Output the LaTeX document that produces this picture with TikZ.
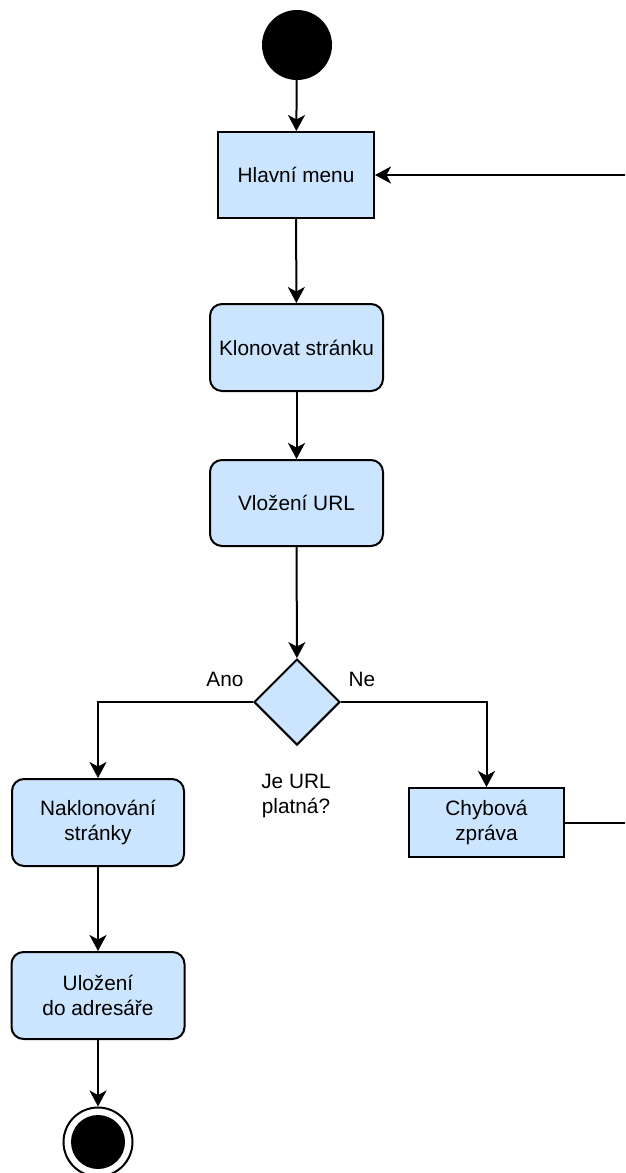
\documentclass[tikz,border=0pt]{standalone}
\usepackage{fontspec}
\setmainfont{Liberation Sans}
\usetikzlibrary{arrows.meta,shapes.geometric}
\definecolor{boxfill}{HTML}{CCE5FF}
\tikzset{
  every node/.style={font=\fontsize{20.8}{25.6}\selectfont},
  actbox/.style={draw=black, line width=2pt, fill=boxfill, rounded corners=12pt, align=center, inner sep=0pt},
  sqbox/.style={draw=black, line width=2pt, fill=boxfill, align=center, inner sep=0pt},
  decbox/.style={draw=black, line width=2pt, fill=boxfill, diamond, minimum width=86pt, minimum height=86pt, inner sep=0pt},
  flow/.style={draw=black, line width=2pt, -{Stealth[length=16pt, width=17pt, inset=4.5pt]}},
}
\begin{document}
\begin{tikzpicture}[x=1pt, y=1pt]
\clip (0,0) rectangle (625,-1173);
\fill[white] (0,0) rectangle (625,-1173);
% start
\node[circle, fill=black, minimum size=70pt, inner sep=0pt] (start) at (297,-45) {};
% nodes
\node[sqbox, minimum width=156pt, minimum height=86pt] (menu) at (296,-175) {Hlavní menu};
\node[actbox, minimum width=173pt, minimum height=87pt] (klon) at (296.5,-347.5) {Klonovat stránku};
\node[actbox, minimum width=173pt, minimum height=86pt] (vloz) at (296.5,-503) {Vložení URL};
\node[decbox] (dec) at (297,-702) {};
\node[actbox, minimum width=172pt, minimum height=87pt] (nakl) at (98,-822.5) {Naklonování\\stránky};
\node[sqbox, minimum width=155pt, minimum height=69pt] (err) at (486.5,-822.5) {Chybová\\zpráva};
\node[actbox, minimum width=173pt, minimum height=87pt] (ulo) at (98,-995.5) {Uložení\\do adresáře};
% end
\node[circle, draw=black, line width=2pt, fill=white, minimum size=69pt, inner sep=0pt] (end) at (98,-1142) {};
\node[circle, fill=black, minimum size=54pt, inner sep=0pt] (endin) at (98,-1142) {};
% labels
\node (ano) at (225,-679) {Ano};
\node (ne) at (362,-679) {Ne};
\node[align=center] (q) at (296,-796) {Je URL\\platná?};
% connectors
\draw[flow] (start) -- (menu);
\draw[flow] (menu) -- (klon);
\draw[flow] (klon) -- (vloz);
\draw[flow] (vloz) -- (dec);
\draw[flow] (dec.west) -| (nakl.north);
\draw[flow] (dec.east) -| (err.north);
\draw[flow] (nakl) -- (ulo);
\draw[flow] (ulo) -- (end);
\coordinate (r1) at (660,-822.5);
\coordinate (r2) at (660,-175);
\draw[flow] (err.east) -- (r1) -- (r2) -- (menu.east);
\end{tikzpicture}
\end{document}
